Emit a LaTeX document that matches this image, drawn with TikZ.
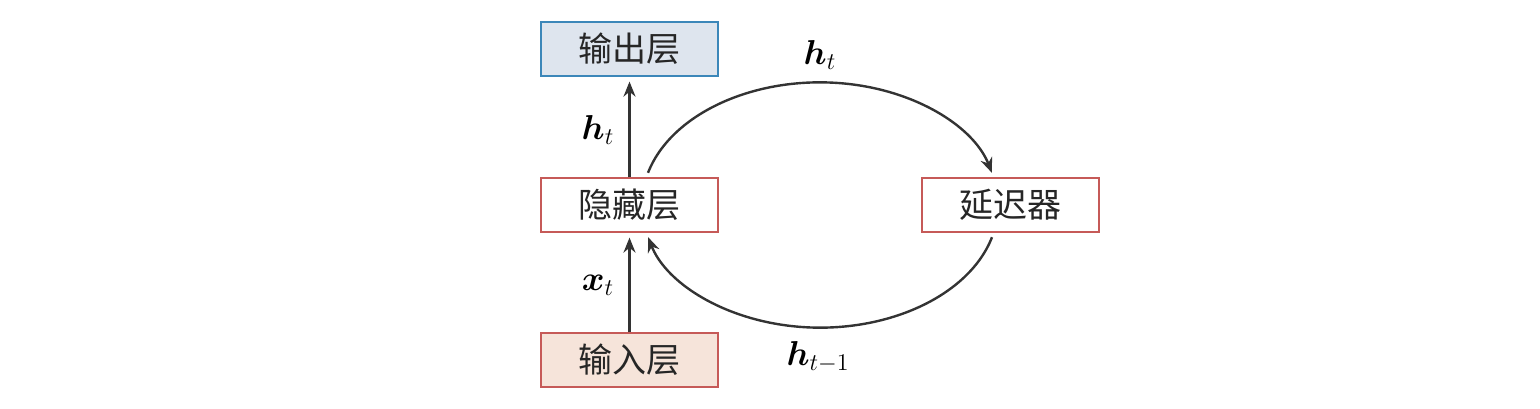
\documentclass[tikz,border=0pt]{standalone}
\usepackage{fontspec}
\usepackage{bm}
\DeclareMathSizes{17}{17}{13}{10}
\newfontfamily\cjk{Noto Sans CJK SC}
\usetikzlibrary{arrows.meta,calc}
\definecolor{outfill}{HTML}{DEE5EE}
\definecolor{outdraw}{HTML}{3C87B9}
\definecolor{infill}{HTML}{F6E4DA}
\definecolor{reddraw}{HTML}{C65A58}
\definecolor{arrcol}{HTML}{333333}
\begin{document}
\begin{tikzpicture}[x=0.5pt,y=0.5pt,
  box/.style={draw=reddraw, fill=white, minimum width=88.5pt, minimum height=27pt, inner sep=0pt, line width=0.6pt, font=\cjk\fontsize{17}{20}\selectfont, text=black!85},
  arr/.style={draw=arrcol, line width=1.2pt, -{Stealth[length=7.5pt,width=6pt]}},
  lbl/.style={font=\fontsize{17}{20}\selectfont, inner sep=0pt}]
\useasboundingbox (0,0) rectangle (1540,408);
\node[box, fill=outfill, draw=outdraw] (output) at (629.5,359) {输出层};
\node[box] (hidden) at (629.5,203) {隐藏层};
\node[box, fill=infill] (input) at (629.5,48) {输入层};
\node[box] (delay) at (1010.5,203) {延迟器};
\draw[arr, shorten >=2.5pt] (input.north) -- (hidden.south);
\draw[arr, shorten >=2.5pt] (hidden.north) -- (output.south);
\coordinate (a1) at ($(hidden.north)+(18.5,4.6)$);
\coordinate (b1) at ($(delay.south)+(-18.5,-4.6)$);
\draw[arr] (a1) arc[start angle=165, end angle=15, x radius=178, y radius=122];
\draw[arr] (b1) arc[start angle=-15, end angle=-165, x radius=178, y radius=122];
\node[lbl] (l1) at (820,353) {$\bm{h}_t$};
\node[lbl] (l2) at (598,278) {$\bm{h}_t$};
\node[lbl] (l3) at (598,123) {$\bm{x}_t$};
\node[lbl] (l4) at (818,51) {$\bm{h}_{t-1}$};
\end{tikzpicture}
\end{document}
